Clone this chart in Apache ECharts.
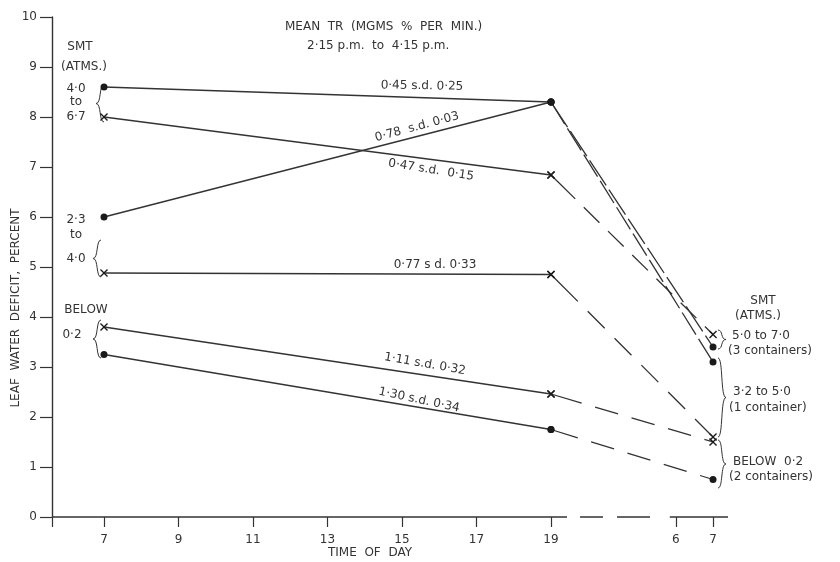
<!DOCTYPE html>
<html>
<head>
<meta charset="utf-8">
<script src="https://cdn.jsdelivr.net/npm/echarts@6/dist/echarts.min.js"></script>
<style>
html,body{margin:0;padding:0;background:#fff;}
#chart{width:840px;height:562px;}
</style>
</head>
<body>
<div id="chart"></div>
<script>
// ---------------- data ----------------
const dayOneTicks = [7, 9, 11, 13, 15, 17, 19];      // hours, first day
const dayTwoTicks = [6, 7];                            // hours, next morning
const obsHours = [7, 19, 7];                           // observation times
const obsDay = [0, 0, 1];                              // 0 = first day, 1 = next morning
const yTicks = [0, 1, 2, 3, 4, 5, 6, 7, 8, 9, 10];

// leaf water deficit (%) at the three observation times
const highSmtDot   = [8.6, 8.3, 3.4];
const highSmtCross = [8.0, 6.84, 3.65];
const midSmtDot    = [6.0, 8.3, 3.1];
const midSmtCross  = [4.88, 4.85, 1.6];
const lowSmtCross  = [3.8, 2.46, 1.5];
const lowSmtDot    = [3.25, 1.75, 0.75];

// mean transpiration annotations
const trLabels = ['0·45 s.d. 0·25', '0·78  s.d. 0·03', '0·47 s.d.  0·15',
                  '0·77 s d. 0·33', '1·11 s.d. 0·32', '1·30 s.d. 0·34'];

// ---------------- layout ----------------
const DAY_SHIFT = 16.35;          // axis position shift for next-morning hours (broken axis)
const X_MIN = 5.604, X_MAX = 23.752;
function pos(h, d) { return d ? h + DAY_SHIFT : h; }

const INK = '#333';
const FONT = '"DejaVu Sans", sans-serif';
const crossPath = 'path://M0,1.2L1.2,0L5,3.8L8.8,0L10,1.2L6.2,5L10,8.8L8.8,10L5,6.2L1.2,10L0,8.8L3.8,5Z';

const groups = [
  {vals: highSmtDot,   sym: 'circle', dash: [30, 5]},
  {vals: highSmtCross, sym: crossPath, dash: [34, 12, 22, 12, 22, 12, 22, 12, 22, 12, 22, 12]},
  {vals: midSmtDot,    sym: 'circle', dash: [26, 5]},
  {vals: midSmtCross,  sym: crossPath, dash: [38, 14, 24, 14, 24, 14, 24, 14, 24, 14, 24, 14]},
  {vals: lowSmtCross,  sym: crossPath, dash: [32, 14, 24, 14, 24, 14, 24, 14, 24, 14]},
  {vals: lowSmtDot,    sym: 'circle', dash: [28, 14, 24, 14, 24, 14, 24, 14, 24, 14]}
];

const series = [];
groups.forEach(g => {
  const pts = g.vals.map((v, i) => [pos(obsHours[i], obsDay[i]), v]);
  const common = {
    type: 'line', silent: true, animation: false, z: 3,
    symbol: g.sym, symbolSize: g.sym === 'circle' ? 7 : 8,
    itemStyle: {color: '#1a1a1a'},
  };
  series.push(Object.assign({}, common, {
    data: pts.slice(0, 2),
    lineStyle: {color: INK, width: 1.3}
  }));
  series.push(Object.assign({}, common, {
    data: pts.slice(1, 3),
    lineStyle: {color: INK, width: 1.3, type: g.dash}
  }));
});

// x axis line drawn as a broken line
const axisLineStyle = {type: 'line', silent: true, animation: false, symbol: 'none', clip: false, z: 2};
series.push(Object.assign({}, axisLineStyle, {data: [[X_MIN, 0], [19.43, 0]], lineStyle: {color: INK, width: 1.4}}));
series.push(Object.assign({}, axisLineStyle, {data: [[19.78, 0], [21.66, 0]], lineStyle: {color: INK, width: 1.4, type: [23, 14, 33, 100]}}));
series.push(Object.assign({}, axisLineStyle, {data: [[22.19, 0], [X_MAX, 0]], lineStyle: {color: INK, width: 1.4}}));

const tickPositions = dayOneTicks.map(h => pos(h, 0)).concat(dayTwoTicks.map(h => pos(h, 1)));

function txt(text, x, y, opts) {
  opts = opts || {};
  return {
    type: 'text', x: x, y: y, rotation: opts.rot || 0, silent: true, z: 10,
    style: {
      text: text, fill: INK, font: (opts.size || 12) + 'px ' + FONT,
      textAlign: opts.align || 'center', textVerticalAlign: 'middle'
    }
  };
}
function brace(x, y1, y2, dir) {
  // dir = -1: cusp to the left "{", dir = 1: cusp to the right "}"
  const w = 4 * dir, m = (y1 + y2) / 2;
  const st = {stroke: INK, lineWidth: 1, fill: 'none'};
  return [
    {type: 'bezierCurve', silent: true, style: st,
     shape: {x1: x - w, y1: y1, cpx1: x + w * 0.3, cpy1: y1, cpx2: x - w * 0.4, cpy2: m, x2: x + w, y2: m}},
    {type: 'bezierCurve', silent: true, style: st,
     shape: {x1: x + w, y1: m, cpx1: x - w * 0.4, cpy1: m, cpx2: x + w * 0.3, cpy2: y2, x2: x - w, y2: y2}}
  ];
}
const deg = Math.PI / 180;

const graphics = [
  // titles
  txt('MEAN  TR  (MGMS  %  PER  MIN.)', 285, 27, {align: 'left', size: 12}),
  txt('2·15 p.m.  to  4·15 p.m.', 307, 46, {align: 'left', size: 12}),
  // axis names
  txt('LEAF  WATER  DEFICIT,  PERCENT', 16, 308, {rot: 90 * deg, size: 12}),
  txt('TIME  OF  DAY', 370, 553, {size: 12}),
  // transpiration annotations
  txt(trLabels[0], 422, 86, {rot: -1 * deg}),
  txt(trLabels[1], 417, 127, {rot: 15 * deg}),
  txt(trLabels[2], 431, 170, {rot: -9 * deg}),
  txt(trLabels[3], 435, 265),
  txt(trLabels[4], 425, 364, {rot: -10 * deg}),
  txt(trLabels[5], 419, 400, {rot: -12 * deg}),
  // left SMT labels
  txt('SMT', 80, 47),
  txt('(ATMS.)', 84, 67),
  txt('4·0', 76, 89), txt('to', 76, 102), txt('6·7', 76, 117),
  txt('2·3', 76, 220), txt('to', 76, 235), txt('4·0', 76, 259),
  txt('BELOW', 86, 310), txt('0·2', 72, 335),
  // right SMT labels
  txt('SMT', 763, 301),
  txt('(ATMS.)', 758, 316),
  txt('5·0 to 7·0', 732, 336, {align: 'left'}),
  txt('(3 containers)', 728, 351, {align: 'left'}),
  txt('3·2 to 5·0', 733, 392, {align: 'left'}),
  txt('(1 container)', 729, 408, {align: 'left'}),
  txt('BELOW  0·2', 733, 462, {align: 'left'}),
  txt('(2 containers)', 729, 477, {align: 'left'})
].concat(
  brace(100, 85, 122, -1),
  brace(97, 240, 277, -1),
  brace(97, 320, 358, -1),
  brace(722, 330, 349, 1),
  brace(722, 358, 437, 1),
  brace(722, 440, 488, 1)
);

const chart = echarts.init(document.getElementById('chart'), null, {renderer: 'canvas'});
chart.setOption({
  backgroundColor: '#fff',
  animation: false,
  grid: {left: 52, right: 112, top: 17, bottom: 45, containLabel: false},
  xAxis: {
    type: 'value', min: X_MIN, max: X_MAX,
    axisLine: {show: false},
    splitLine: {show: false},
    axisTick: {show: true, length: 10, customValues: [X_MIN].concat(tickPositions),
               lineStyle: {color: INK, width: 1.2}},
    axisLabel: {
      customValues: tickPositions, margin: 17, color: INK, fontSize: 12, fontFamily: FONT,
      formatter: v => String(Math.round(v > 20 ? v - DAY_SHIFT : v))
    }
  },
  yAxis: {
    type: 'value', min: 0, max: 10, interval: 1,
    axisLine: {show: true, lineStyle: {color: INK, width: 1.4}},
    splitLine: {show: false},
    axisTick: {show: true, length: 12, lineStyle: {color: INK, width: 1.2}},
    axisLabel: {color: INK, fontSize: 12, fontFamily: FONT, margin: 15,
                formatter: v => yTicks.indexOf(v) >= 0 ? String(v) : ''}
  },
  series: series,
  graphic: graphics
});
</script>
</body>
</html>
